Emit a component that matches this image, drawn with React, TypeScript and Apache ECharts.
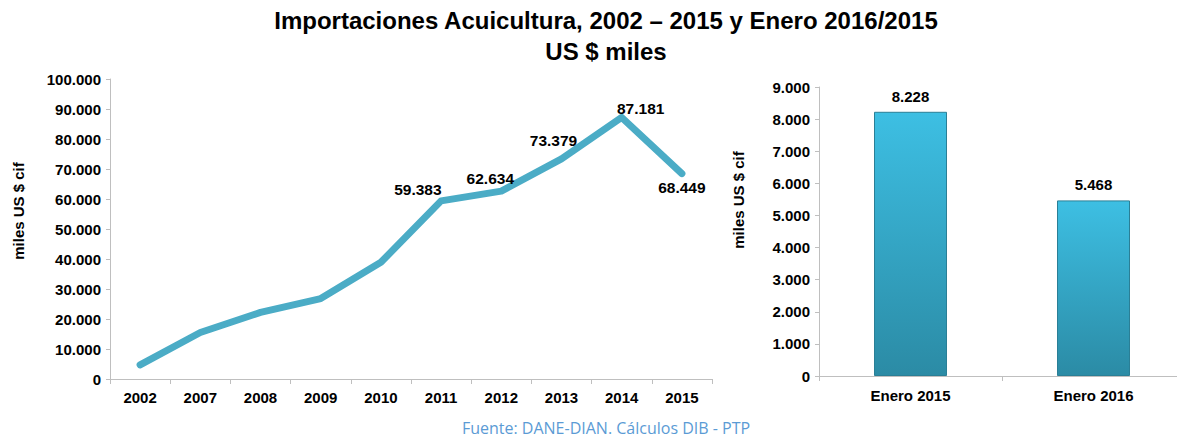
import React, { useEffect, useRef } from "react";
import * as echarts from "echarts";

const years = ["2002", "2007", "2008", "2009", "2010", "2011", "2012", "2013", "2014", "2015"];
const importValues = [4700, 15500, 22200, 26800, 38900, 59383, 62634, 73379, 87181, 68449];
const labeledYears = ["2011", "2012", "2013", "2014", "2015"];
const months = ["Enero 2015", "Enero 2016"];
const monthValues = [8228, 5468];

const titleText = "Importaciones Acuicultura, 2002 – 2015 y Enero 2016/2015\nUS $ miles";
const axisName = "miles US $ cif";
const sourceText = "Fuente: DANE-DIAN. Cálculos DIB - PTP";

const fmt = (v: number) => String(Math.round(v)).replace(/\B(?=(\d{3})+(?!\d))/g, ".");

const FONT = "Liberation Sans, Arial, sans-serif";

export default function App() {
  const ref = useRef<HTMLDivElement>(null);
  useEffect(() => {
    if (!ref.current) return;
    const chart = echarts.init(ref.current, null, { renderer: "svg" });
    const labelPos: Record<string, any> = {
      "2011": { position: "left", distance: 5, offset: [6, -11] },
      "2012": { position: "top", distance: 5, offset: [-11, 1] },
      "2013": { position: "top", distance: 5, offset: [-8, -5] },
      "2014": { position: "top", distance: 5, offset: [19, 5] },
      "2015": { position: "bottom", distance: 5, offset: [0, 0] },
    };
    const lineData = importValues.map((v, i) => {
      const y = years[i];
      if (labeledYears.includes(y)) {
        return { value: v, label: { show: true, ...labelPos[y] } };
      }
      return { value: v, label: { show: false } };
    });
    const axisLabelStyle = { color: "#000", fontFamily: FONT, fontWeight: "bold" as const, fontSize: 15 };
    const nameStyle = { text: axisName, fontFamily: FONT, fontWeight: "bold", fontSize: 15, fill: "#000", textAlign: "center", textVerticalAlign: "middle" };
    chart.setOption({
      animation: false,
      title: {
        text: titleText,
        left: 601,
        textAlign: "center",
        top: 0,
        textStyle: { fontFamily: FONT, fontWeight: "bold", fontSize: 24, lineHeight: 31, color: "#000" },
      },
      graphic: [
        { type: "text", x: 18, y: 211, rotation: Math.PI / 2, style: nameStyle },
        { type: "text", x: 738, y: 200, rotation: Math.PI / 2, style: nameStyle },
        {
          type: "text",
          x: 606,
          y: 428,
          style: { text: sourceText, fontFamily: "Open Sans, Noto Sans, sans-serif", fontSize: 16, fill: "#5b9bd5", textAlign: "center", textVerticalAlign: "middle" },
        },
      ],
      grid: [
        { left: 110, top: 79, width: 602, height: 300 },
        { left: 819, top: 87, width: 366, height: 289 },
      ],
      xAxis: [
        {
          type: "category",
          gridIndex: 0,
          data: years,
          boundaryGap: true,
          axisLine: { lineStyle: { color: "#bfbfbf", width: 1 } },
          axisTick: { show: true, alignWithLabel: false, length: 5, lineStyle: { color: "#bfbfbf" } },
          axisLabel: { ...axisLabelStyle, margin: 11 },
        },
        {
          type: "category",
          gridIndex: 1,
          data: months,
          boundaryGap: true,
          axisLine: { lineStyle: { color: "#bfbfbf", width: 1 } },
          axisTick: { show: true, length: 5, lineStyle: { color: "#bfbfbf" } },
          axisLabel: { ...axisLabelStyle, margin: 12 },
        },
      ],
      yAxis: [
        {
          type: "value",
          gridIndex: 0,
          min: 0,
          max: 100000,
          interval: 10000,
          axisLine: { show: true, lineStyle: { color: "#bfbfbf" } },
          axisTick: { show: true, length: 4, lineStyle: { color: "#bfbfbf" } },
          splitLine: { show: false },
          axisLabel: { ...axisLabelStyle, margin: 9, formatter: (v: number) => fmt(v) },
        },
        {
          type: "value",
          gridIndex: 1,
          min: 0,
          max: 9000,
          interval: 1000,
          axisLine: { show: true, lineStyle: { color: "#bfbfbf" } },
          axisTick: { show: true, length: 4, lineStyle: { color: "#bfbfbf" } },
          splitLine: { show: false },
          axisLabel: { ...axisLabelStyle, margin: 9, formatter: (v: number) => fmt(v) },
        },
      ],
      series: [
        {
          type: "line",
          xAxisIndex: 0,
          yAxisIndex: 0,
          data: lineData,
          symbol: "circle",
          symbolSize: 1,
          showSymbol: true,
          itemStyle: { color: "#4bacc6" },
          lineStyle: { color: "#4bacc6", width: 7, cap: "round", join: "round" },
          label: {
            color: "#000",
            fontFamily: FONT,
            fontWeight: "bold",
            fontSize: 15.5,
            formatter: (p: any) => fmt(p.value),
          },
        },
        {
          type: "bar",
          xAxisIndex: 1,
          yAxisIndex: 1,
          data: monthValues,
          barWidth: 73,
          itemStyle: {
            color: new echarts.graphic.LinearGradient(0, 0, 0, 1, [
              { offset: 0, color: "#3dbfe3" },
              { offset: 1, color: "#2b8ba5" },
            ]),
            borderColor: "#2a7f96",
            borderWidth: 1,
          },
          label: {
            show: true,
            position: "top",
            distance: 8,
            color: "#000",
            fontFamily: FONT,
            fontWeight: "bold",
            fontSize: 15,
            formatter: (p: any) => fmt(p.value),
          },
        },
      ],
    });
    return () => chart.dispose();
  }, []);
  return <div ref={ref} style={{ position: "fixed", left: 0, top: 0, width: 1192, height: 439, background: "#fff" }} />;
}
